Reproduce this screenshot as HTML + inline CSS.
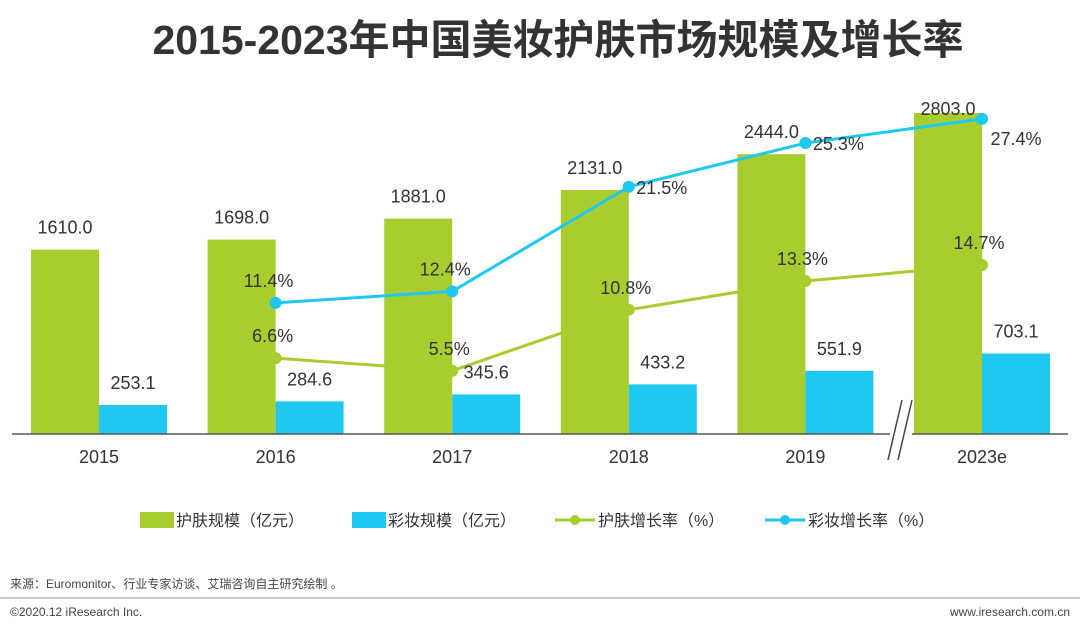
<!DOCTYPE html>
<html><head><meta charset="utf-8"><style>
html,body{margin:0;padding:0;background:#fff;}
body{width:1080px;height:631px;overflow:hidden;font-family:"Liberation Sans","Noto Sans CJK SC",sans-serif;}
svg text{font-family:"Liberation Sans","Noto Sans CJK SC",sans-serif;}
</style></head><body>
<svg id="chart" width="1080" height="631">
<text x="558" y="54" text-anchor="middle" font-size="41" font-weight="bold" fill="#333">2015-2023年中国美妆护肤市场规模及增长率</text>
<g id="bars"></g><g id="lines"></g><g id="labels"></g>
<line x1="12" y1="434" x2="1068" y2="434" stroke="#555" stroke-width="1.5"/>
<g>
<rect x="890" y="395" width="22" height="70" fill="#fff"/>
<line x1="888" y1="460" x2="902" y2="400" stroke="#444" stroke-width="1.5"/>
<line x1="898" y1="460" x2="912" y2="400" stroke="#444" stroke-width="1.5"/>
</g>
<g id="legend" font-size="16" fill="#333">
<g><rect x="140" y="512" width="34" height="16" fill="#a8cd2f"/><text x="176" y="526">护肤规模（亿元）</text></g>
<g><rect x="352" y="512" width="34" height="16" fill="#1ec8f0"/><text x="388" y="526">彩妆规模（亿元）</text></g>
<g><line x1="555" y1="520" x2="595" y2="520" stroke="#a8cd2f" stroke-width="3"/><circle cx="575" cy="520" r="5" fill="#a8cd2f"/><text x="598" y="526">护肤增长率（%）</text></g>
<g><line x1="765" y1="520" x2="805" y2="520" stroke="#1ec8f0" stroke-width="3"/><circle cx="785" cy="520" r="5" fill="#1ec8f0"/><text x="808" y="526">彩妆增长率（%）</text></g>
</g>
<text x="10" y="588" font-size="12" fill="#444">来源：Euromonitor、行业专家访谈、艾瑞咨询自主研究绘制 。</text>
<line x1="0" y1="598" x2="1080" y2="598" stroke="#999" stroke-width="1"/>
<text x="10" y="616" font-size="12" fill="#444">©2020.12 iResearch Inc.</text>
<text x="1070" y="616" font-size="12" fill="#444" text-anchor="end">www.iresearch.com.cn</text>
</svg>
<script>
const categories=["2015","2016","2017","2018","2019","2023e"];
const skinSize=[1610.0,1698.0,1881.0,2131.0,2444.0,2803.0];
const makeupSize=[253.1,284.6,345.6,433.2,551.9,703.1];
const skinGrowth=[null,6.6,5.5,10.8,13.3,14.7];
const makeupGrowth=[null,11.4,12.4,21.5,25.3,27.4];
const NS="http://www.w3.org/2000/svg";
const base=434;
function xc(i){return 99+i*176.6;}
function yv(v){return base-v*0.1145;}
function yr(v){return base-v*11.5;}
function mk(tag,attrs,parent,txt){const e=document.createElementNS(NS,tag);for(const k in attrs)e.setAttribute(k,attrs[k]);if(txt!=null)e.textContent=txt;document.getElementById(parent).appendChild(e);return e;}
categories.forEach((c,i)=>{
 const x=xc(i);
 let b=mk('rect',{x:x-68,y:yv(skinSize[i]),width:68,height:base-yv(skinSize[i]),fill:'#a8cd2f'},'bars');
 
 
 b=mk('rect',{x:x,y:yv(makeupSize[i]),width:68,height:base-yv(makeupSize[i]),fill:'#1ec8f0'},'bars');
 
 
 const sy=i===5?yv(skinSize[i])+2:yv(skinSize[i])-16;
 let t=mk('text',{x:x-34,y:sy,'text-anchor':'middle','font-size':18,fill:'#333'},'labels',skinSize[i].toFixed(1));
 
 
 t=mk('text',{x:x+34,y:yv(makeupSize[i])-16,'text-anchor':'middle','font-size':18,fill:'#333'},'labels',makeupSize[i].toFixed(1));
 
 
 t=mk('text',{x:x,y:463,'text-anchor':'middle','font-size':18,fill:'#333'},'labels',c);
 
 
});
function series(arr,color,name,labelPos){
 let pts=[];arr.forEach((v,i)=>{if(v!=null)pts.push([xc(i),yr(v),v,i]);});
 const pl=mk('polyline',{points:pts.map(p=>p[0]+','+p[1]).join(' '),fill:'none',stroke:color,'stroke-width':3},'lines');
 
 
 pts.forEach(p=>{
  const c=mk('circle',{cx:p[0],cy:p[1],r:6,fill:color},'lines');
  
  
  const off=labelPos(p[3]);
  const t=mk('text',{x:p[0]+off[0],y:p[1]+off[1],'text-anchor':'middle','font-size':18,fill:'#333'},'labels',p[2].toFixed(1)+'%');
  
  
 });
}
series(skinGrowth,'#a8cd2f','skin-growth',i=>[-3,-16]);
series(makeupGrowth,'#1ec8f0','makeup-growth',i=>i===5?[34,26]:(i>=3?[33,7]:[-7,-16]));
</script>
</body></html>
